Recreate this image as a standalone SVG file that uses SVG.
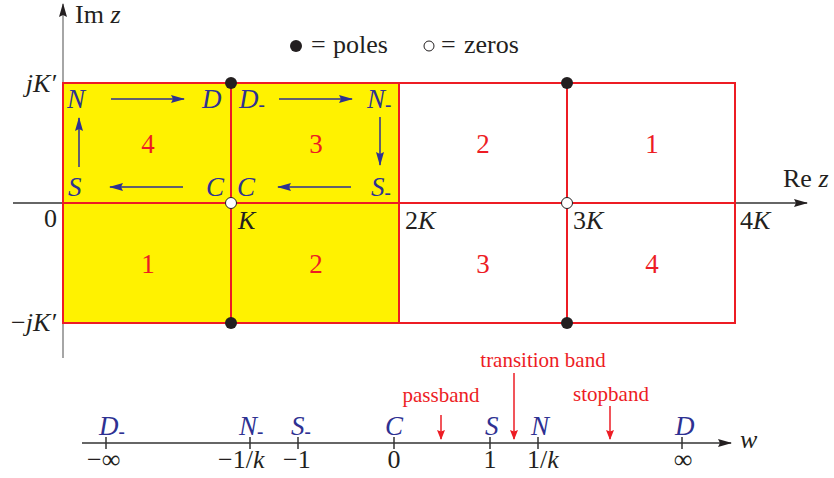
<svg xmlns="http://www.w3.org/2000/svg" width="834" height="478" viewBox="0 0 834 478">
<style>
.t{font-family:"Liberation Serif","Times New Roman",serif;font-size:26px;fill:#231f20}
.i{font-style:italic}
.b{font-family:"Liberation Serif","Times New Roman",serif;font-size:27px;font-style:italic;fill:#2e3192}
.r{font-family:"Liberation Serif","Times New Roman",serif;font-size:27px;fill:#ed1c24}
.rl{font-family:"Liberation Serif","Times New Roman",serif;font-size:21px;fill:#ed1c24}
.sub{font-size:19px;font-style:normal;font-weight:bold}
.grid{stroke:#ed1c24;stroke-width:2;fill:none}
.ba{stroke:#2e3192;stroke-width:1.5;fill:none;marker-end:url(#bh)}
.ra{stroke:#ed1c24;stroke-width:1.5;fill:none;marker-end:url(#rh)}
.tick{stroke:#333;stroke-width:1.5}
</style>
<defs>
<marker id="kh" markerWidth="14" markerHeight="8" refX="13" refY="4" orient="auto" markerUnits="userSpaceOnUse"><path d="M0,0 L14,4 L0,8 L2,4 z" fill="#231f20"/></marker>
<marker id="bh" markerWidth="14" markerHeight="8" refX="13" refY="4" orient="auto" markerUnits="userSpaceOnUse"><path d="M0,0 L14,4 L0,8 L2,4 z" fill="#2e3192"/></marker>
<marker id="rh" markerWidth="10" markerHeight="8" refX="9" refY="4" orient="auto" markerUnits="userSpaceOnUse"><path d="M0,0 L10,4 L0,8 L1.5,4 z" fill="#ed1c24"/></marker>
</defs>

<g id="yellow-region"><rect x="63" y="83" width="336" height="240" fill="#fff200"/></g>

<g id="axes">
<line x1="63" y1="358" x2="63" y2="4" stroke="#888" stroke-width="1.5" marker-end="url(#kh)"/>
<line x1="13" y1="203" x2="807" y2="203" stroke="#333" stroke-width="1.5" marker-end="url(#kh)"/>
<text class="t" x="75" y="23" font-size="25">Im <tspan class="i">z</tspan></text>
<text class="t" x="783" y="187">Re <tspan class="i">z</tspan></text>
<text class="t i" x="56" y="92" text-anchor="end">jK′</text>
<text class="t" x="57" y="227" text-anchor="end">0</text>
<text class="t" x="56" y="331" text-anchor="end">−<tspan class="i">jK′</tspan></text>
<text class="t i" x="238" y="229">K</text>
<text class="t" x="405" y="229">2<tspan class="i">K</tspan></text>
<text class="t" x="573" y="229">3<tspan class="i">K</tspan></text>
<text class="t" x="740" y="229">4<tspan class="i">K</tspan></text>
</g>

<g id="grid">
<rect class="grid" x="63" y="83" width="672" height="240"/>
<line class="grid" x1="63" y1="203" x2="735" y2="203"/>
<line class="grid" x1="231" y1="83" x2="231" y2="323"/>
<line class="grid" x1="399" y1="83" x2="399" y2="323"/>
<line class="grid" x1="567" y1="83" x2="567" y2="323" stroke="#ef5a62"/>
</g>

<g id="region-numbers">
<text class="r" x="148" y="153" text-anchor="middle">4</text>
<text class="r" x="316" y="153" text-anchor="middle">3</text>
<text class="r" x="483" y="153" text-anchor="middle">2</text>
<text class="r" x="652" y="153" text-anchor="middle">1</text>
<text class="r" x="148" y="273" text-anchor="middle">1</text>
<text class="r" x="316" y="273" text-anchor="middle">2</text>
<text class="r" x="483" y="273" text-anchor="middle">3</text>
<text class="r" x="652" y="273" text-anchor="middle">4</text>
</g>

<g id="poles-zeros">
<circle cx="231" cy="83" r="6" fill="#231f20"/>
<circle cx="567" cy="83" r="6" fill="#231f20"/>
<circle cx="231" cy="323" r="6" fill="#231f20"/>
<circle cx="567" cy="323" r="6" fill="#231f20"/>
<circle cx="231" cy="203" r="5.5" fill="#fff" stroke="#231f20" stroke-width="1"/>
<circle cx="567" cy="203" r="5.5" fill="#fff" stroke="#231f20" stroke-width="1"/>
</g>

<g id="legend">
<circle cx="296" cy="46" r="6" fill="#231f20"/>
<text class="t" x="311" y="53">=</text>
<text class="t" x="333" y="53">poles</text>
<circle cx="429" cy="46" r="5" fill="#fff" stroke="#231f20" stroke-width="1"/>
<text class="t" x="441" y="53">=</text>
<text class="t" x="464" y="53">zeros</text>
</g>

<g id="path-labels">
<text class="b" x="67" y="108">N</text>
<text class="b" x="202" y="108">D</text>
<text class="b" x="239" y="108">D<tspan class="sub" dy="3">-</tspan></text>
<text class="b" x="367" y="108">N<tspan class="sub" dy="3">-</tspan></text>
<text class="b" x="68" y="196">S</text>
<text class="b" x="206" y="196">C</text>
<text class="b" x="237" y="196">C</text>
<text class="b" x="371" y="196">S<tspan class="sub" dy="3">-</tspan></text>
</g>

<g id="connectors">
<line class="ba" x1="111" y1="99" x2="184" y2="99"/>
<line class="ba" x1="279" y1="99" x2="352" y2="99"/>
<line class="ba" x1="380" y1="117" x2="380" y2="165"/>
<line class="ba" x1="351" y1="187" x2="278" y2="187"/>
<line class="ba" x1="183" y1="187" x2="110" y2="187"/>
<line class="ba" x1="79" y1="167" x2="79" y2="118"/>
<line class="ra" x1="441" y1="415" x2="441" y2="439"/>
<line class="ra" x1="514" y1="373" x2="514" y2="439"/>
<line class="ra" x1="610" y1="406" x2="610" y2="439"/>
</g>

<g id="w-axis">
<line x1="82" y1="443" x2="731" y2="443" stroke="#333" stroke-width="1.5" marker-end="url(#kh)"/>
<text class="t i" x="740" y="448">w</text>
<line class="tick" x1="106" y1="437" x2="106" y2="449"/>
<line class="tick" x1="250" y1="437" x2="250" y2="449"/>
<line class="tick" x1="298" y1="437" x2="298" y2="449"/>
<line class="tick" x1="394" y1="437" x2="394" y2="449"/>
<line class="tick" x1="490" y1="437" x2="490" y2="449"/>
<line class="tick" x1="538" y1="437" x2="538" y2="449"/>
<line class="tick" x1="682" y1="437" x2="682" y2="449"/>
<text class="b" x="99" y="435">D<tspan class="sub" dy="3">-</tspan></text>
<text class="b" x="239" y="435">N<tspan class="sub" dy="3">-</tspan></text>
<text class="b" x="291" y="435">S<tspan class="sub" dy="3">-</tspan></text>
<text class="b" x="385" y="435">C</text>
<text class="b" x="485" y="435">S</text>
<text class="b" x="531" y="435">N</text>
<text class="b" x="675" y="435">D</text>
<text class="t" x="87" y="468">−∞</text>
<text class="t" x="218" y="468">−1/<tspan class="i">k</tspan></text>
<text class="t" x="283" y="468">−1</text>
<text class="t" x="394" y="468" text-anchor="middle">0</text>
<text class="t" x="490" y="468" text-anchor="middle">1</text>
<text class="t" x="527" y="468">1/<tspan class="i">k</tspan></text>
<text class="t" x="683" y="468" text-anchor="middle">∞</text>
<text class="rl" x="441" y="402" text-anchor="middle">passband</text>
<text class="rl" x="543" y="367" text-anchor="middle">transition band</text>
<text class="rl" x="611" y="401" text-anchor="middle">stopband</text>
</g>
</svg>
